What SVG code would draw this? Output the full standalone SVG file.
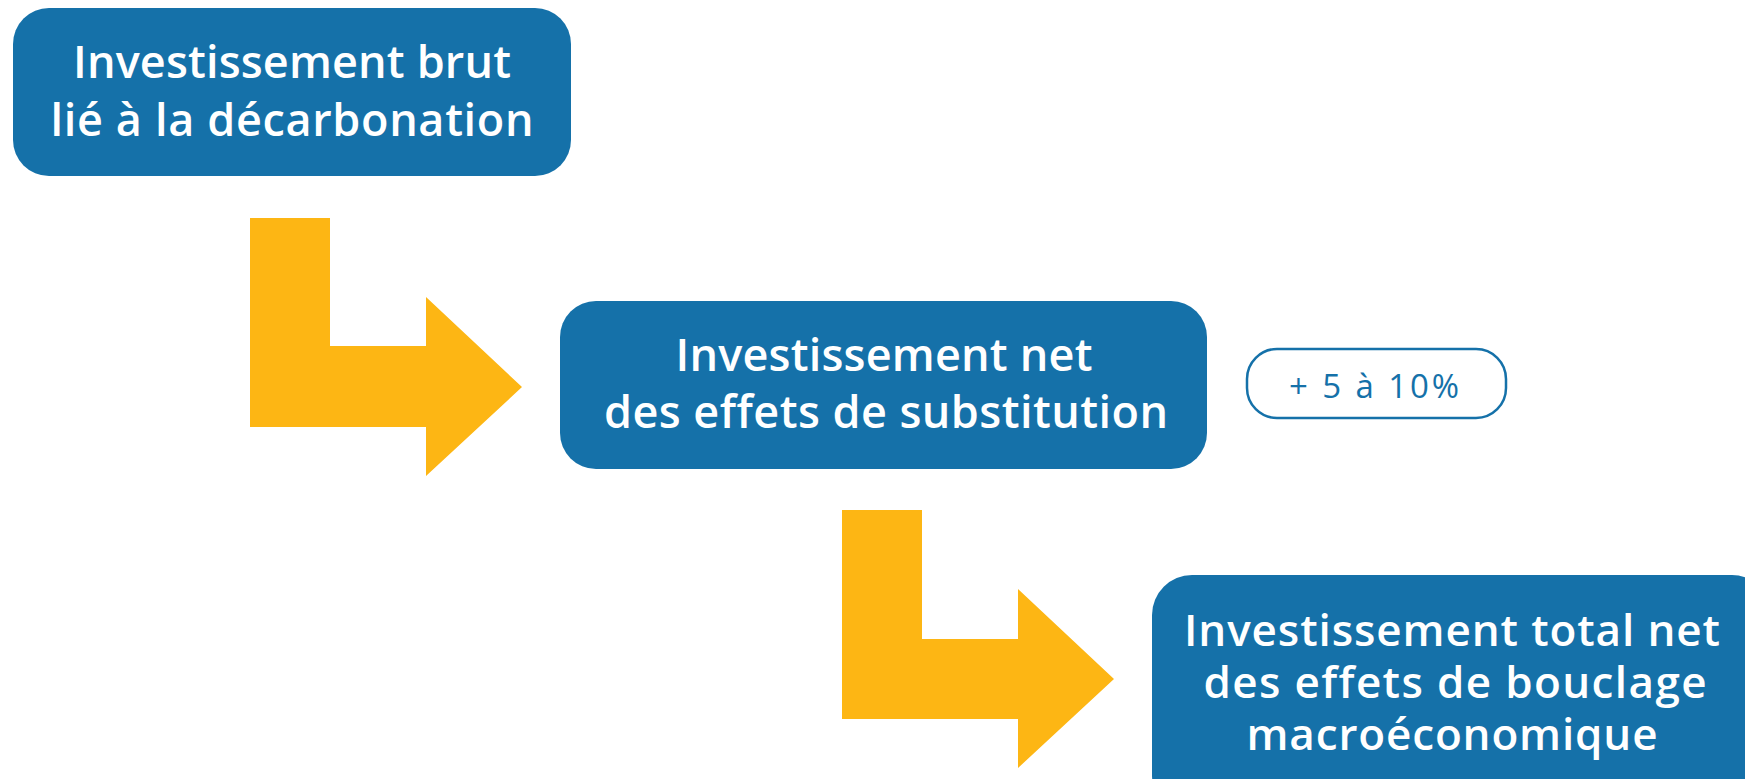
<svg xmlns="http://www.w3.org/2000/svg" width="1745" height="779" viewBox="0 0 1745 779">
  <style>
    .box { fill: #1571a9; }
    .label { fill: #ffffff; font-family: "Open Sans", "Noto Sans", sans-serif; font-weight: 600; font-size: 45px; text-anchor: middle; font-variant-ligatures: none; }
    .label-tight { font-size: 44px; }
    .arrow { fill: #fdb614; }
    .badge { fill: #ffffff; stroke: #1571a9; stroke-width: 2.5; }
    .badge-text { fill: #1571a9; font-family: "Open Sans", "Noto Sans", sans-serif; font-weight: 400; font-size: 33px; text-anchor: middle; }
  </style>
  <rect width="1745" height="779" fill="#ffffff"/>

  <g id="connectors">
    <polygon class="arrow" points="250,218 330,218 330,346 426,346 426,297 522,387 426,476 426,427 250,427"/>
    <polygon class="arrow" points="842,510 922,510 922,639 1018,639 1018,589 1114,679 1018,768 1018,719 842,719"/>
  </g>

  <g id="node-brut">
    <rect class="box" x="13" y="8" width="558" height="168" rx="36" ry="36"/>
    <text class="label" x="292" y="78" textLength="438" lengthAdjust="spacing">Investissement brut</text>
    <text class="label" x="292" y="136" textLength="483" lengthAdjust="spacing">lié à la décarbonation</text>
  </g>

  <g id="node-substitution">
    <rect class="box" x="560" y="301" width="647" height="168" rx="36" ry="36"/>
    <text class="label" x="884" y="371" textLength="417" lengthAdjust="spacing">Investissement net</text>
    <text class="label" x="886" y="428" textLength="564" lengthAdjust="spacing">des effets de substitution</text>
  </g>

  <g id="badge-substitution">
    <rect class="badge" x="1247" y="349" width="259" height="69" rx="30" ry="30"/>
    <text class="badge-text" x="1374" y="398" textLength="170" lengthAdjust="spacing">+ 5 à 10%</text>
  </g>

  <g id="node-bouclage">
    <rect class="box" x="1152" y="575" width="620" height="240" rx="40" ry="40"/>
    <text class="label label-tight" x="1452" y="646" textLength="536" lengthAdjust="spacing">Investissement total net</text>
    <text class="label label-tight" x="1455" y="698" textLength="503" lengthAdjust="spacing">des effets de bouclage</text>
    <text class="label label-tight" x="1452" y="750" textLength="411" lengthAdjust="spacing">macroéconomique</text>
  </g>
</svg>
